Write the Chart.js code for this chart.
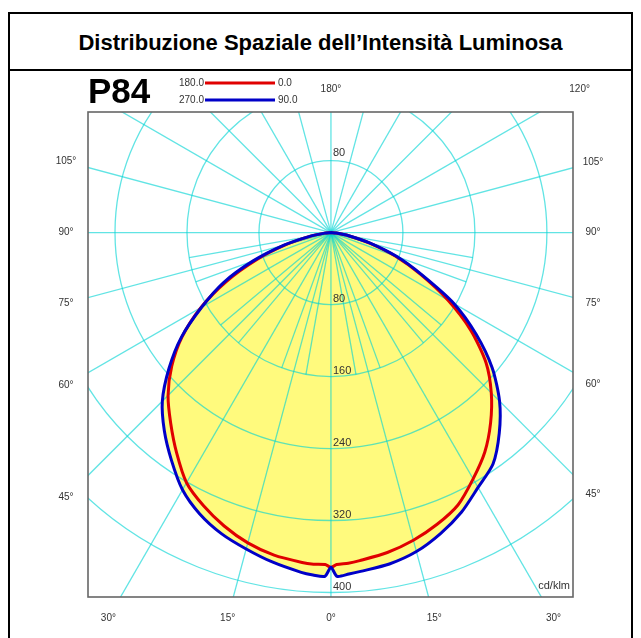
<!DOCTYPE html>
<html>
<head>
<meta charset="utf-8">
<script src="https://cdn.jsdelivr.net/npm/chart.js@4.4.1/dist/chart.umd.min.js"></script>
<style>
  html, body { margin: 0; padding: 0; background: #fff; }
  #frame { position: absolute; left: 8px; top: 12px; width: 621px; height: 640px; border: 2px solid #000; }
  #title { height: 55px; border-bottom: 2px solid #000; text-align: center;
           font: bold 22px "Liberation Sans", Arial, sans-serif; line-height: 58px; color: #000; }
  #myChart { position: absolute; left: 0; top: 0; }
</style>
</head>
<body>
<div id="frame"><div id="title">Distribuzione Spaziale dell’Intensità Luminosa</div></div>
<canvas id="myChart" width="641" height="638"></canvas>
<script>
// gamma angles (deg from nadir) and intensities in cd/klm for each C plane
const gammaAngles = [0, 1, 3, 5, 10, 15, 20, 25, 30, 35, 40, 45, 50, 55, 60, 65, 70, 75, 80, 85, 90];
const c0   = [372, 369, 368, 366, 361, 354, 345, 334, 316, 298, 276, 252, 225, 190, 150, 110, 76, 44, 20, 6, 0];
const c180 = [372, 369, 369, 368, 364, 357, 347, 335, 321, 299, 277, 256, 231, 202, 167, 128, 88, 52, 24, 7, 0];
const c90  = [372, 382, 380, 378, 374, 367, 356, 343, 327, 314, 291, 265, 234, 197, 158, 112, 78, 45, 20, 6, 0];
const c270 = [372, 382, 381, 379, 372, 364, 356, 345, 330, 309, 288, 265, 235, 203, 166, 132, 92, 54, 24, 7, 0];

// grid
const rings = [80, 160, 240, 320, 400];
const rayStep = 15;
const innerRayStep = 10;
const innerRayLimit = 160;
// angle labels, 0 = nadir, positive to the right
const angleTicks = [-105, -90, -75, -60, -45, -30, -15, 0, 15, 30, 45, 60, 75, 90, 105, 120, 180];

const gridColor = "rgba(0, 212, 212, 0.62)";
const textColor = "#333";

// turn the two half planes into one closed curve
function toPoints(left, right) {
  const pts = [];
  for (let i = gammaAngles.length - 1; i >= 0; i--) {
    const a = gammaAngles[i] * Math.PI / 180;
    pts.push({ x: -left[i] * Math.sin(a), y: -left[i] * Math.cos(a) });
  }
  for (let i = 1; i < gammaAngles.length; i++) {
    const a = gammaAngles[i] * Math.PI / 180;
    pts.push({ x: right[i] * Math.sin(a), y: -right[i] * Math.cos(a) });
  }
  return pts;
}

function center(chart) {
  const sx = chart.scales.x, sy = chart.scales.y;
  const cx = sx.getPixelForValue(0);
  const cy = sy.getPixelForValue(0);
  return { cx, cy, unit: sx.getPixelForValue(1) - cx };
}

// polar grid under the curves, over the fill
const polarGrid = {
  id: "polarGrid",
  beforeDatasetsDraw(chart) {
    const { ctx, chartArea: ca } = chart;
    const { cx, cy, unit } = center(chart);
    ctx.save();
    ctx.beginPath();
    ctx.rect(ca.left, ca.top, ca.right - ca.left, ca.bottom - ca.top);
    ctx.clip();
    ctx.strokeStyle = gridColor;
    ctx.lineWidth = 1.3;
    rings.forEach((r) => {
      ctx.beginPath();
      ctx.arc(cx, cy, r * unit, 0, Math.PI * 2);
      ctx.stroke();
    });
    for (let g = -180; g < 180; g += rayStep) {
      const a = g * Math.PI / 180;
      ctx.beginPath();
      ctx.moveTo(cx, cy);
      ctx.lineTo(cx + 1000 * Math.sin(a), cy + 1000 * Math.cos(a));
      ctx.stroke();
    }
    for (let g = -90 + innerRayStep; g < 90; g += innerRayStep) {
      if (g % rayStep === 0) continue;
      const a = g * Math.PI / 180;
      const len = innerRayLimit * unit;
      ctx.beginPath();
      ctx.moveTo(cx, cy);
      ctx.lineTo(cx + len * Math.sin(a), cy + len * Math.cos(a));
      ctx.stroke();
    }
    ctx.restore();
  },
  afterDraw(chart) {
    const { ctx, chartArea: ca } = chart;
    const { cx, cy, unit } = center(chart);
    ctx.save();
    // plot frame
    ctx.strokeStyle = "#666";
    ctx.lineWidth = 1.6;
    ctx.strokeRect(ca.left, ca.top, ca.right - ca.left, ca.bottom - ca.top);

    // ring values
    ctx.fillStyle = textColor;
    ctx.font = "11px 'Liberation Sans', Arial, sans-serif";
    ctx.textAlign = "left";
    ctx.textBaseline = "middle";
    rings.forEach((r) => {
      const below = cy + r * unit - 6;
      const above = cy - r * unit - 8;
      if (below < ca.bottom) ctx.fillText(String(r), cx + 2, below);
      if (above > ca.top) ctx.fillText(String(r), cx + 2, above);
    });
    ctx.textAlign = "right";
    ctx.fillText("cd/klm", ca.right - 3, ca.bottom - 11);

    // angle labels where each ray meets the label frame
    const L = ca.left - 22, R = ca.right + 20, T = ca.top - 23, B = ca.bottom + 21;
    ctx.font = "10px 'Liberation Sans', Arial, sans-serif";
    ctx.textAlign = "center";
    angleTicks.forEach((g) => {
      const a = g * Math.PI / 180;
      const s = Math.sin(a), c = Math.cos(a);
      let t = Infinity;
      if (s > 1e-9) t = Math.min(t, (R - cx) / s);
      if (s < -1e-9) t = Math.min(t, (L - cx) / s);
      if (c > 1e-9) t = Math.min(t, (B - cy) / c);
      if (c < -1e-9) t = Math.min(t, (T - cy) / c);
      ctx.fillText(Math.abs(g) + "°", cx + t * s, cy + t * c);
    });

    // name and legend
    ctx.fillStyle = "#000";
    ctx.font = "bold 35px 'Liberation Sans', Arial, sans-serif";
    ctx.textAlign = "left";
    ctx.textBaseline = "alphabetic";
    ctx.fillText("P84", 88, 103);

    const legend = [
      { left: "180.0", right: "0.0", color: "#e00000", y: 83 },
      { left: "270.0", right: "90.0", color: "#0000c8", y: 100 },
    ];
    ctx.font = "10px 'Liberation Sans', Arial, sans-serif";
    ctx.textBaseline = "middle";
    legend.forEach((item) => {
      ctx.fillStyle = textColor;
      ctx.textAlign = "right";
      ctx.fillText(item.left, 204, item.y);
      ctx.textAlign = "left";
      ctx.fillText(item.right, 278, item.y);
      ctx.strokeStyle = item.color;
      ctx.lineWidth = 3;
      ctx.beginPath();
      ctx.moveTo(205, item.y);
      ctx.lineTo(275, item.y);
      ctx.stroke();
    });
    ctx.restore();
  },
};

const ctx = document.getElementById("myChart").getContext("2d");
const myChart = new Chart(ctx, {
  type: "scatter",
  data: {
    datasets: [
      {
        // C90 - C270
        label: "270.0 - 90.0",
        data: toPoints(c270, c90),
        showLine: true,
        fill: "shape",
        borderColor: "#0000c8",
        backgroundColor: "rgb(255, 250, 125)",
        borderWidth: 3,
      },
      {
        // C0 - C180
        label: "180.0 - 0.0",
        data: toPoints(c180, c0),
        showLine: true,
        fill: "shape",
        borderColor: "#e00000",
        backgroundColor: "rgb(255, 250, 125)",
        borderWidth: 3,
      },
    ],
  },
  options: {
    responsive: false,
    animation: false,
    layout: { padding: { left: 88, right: 68, top: 112, bottom: 41 } },
    elements: { point: { radius: 0, hoverRadius: 0 }, line: { tension: 0.25, borderJoinStyle: "round" } },
    scales: {
      x: { type: "linear", min: -270, max: 269, display: false },
      y: { type: "linear", min: -405, max: 134, display: false },
    },
    plugins: {
      legend: { display: false },
      tooltip: { enabled: false },
      filler: { drawTime: "beforeDatasetsDraw" },
    },
  },
  plugins: [polarGrid],
});
</script>
</body>
</html>
